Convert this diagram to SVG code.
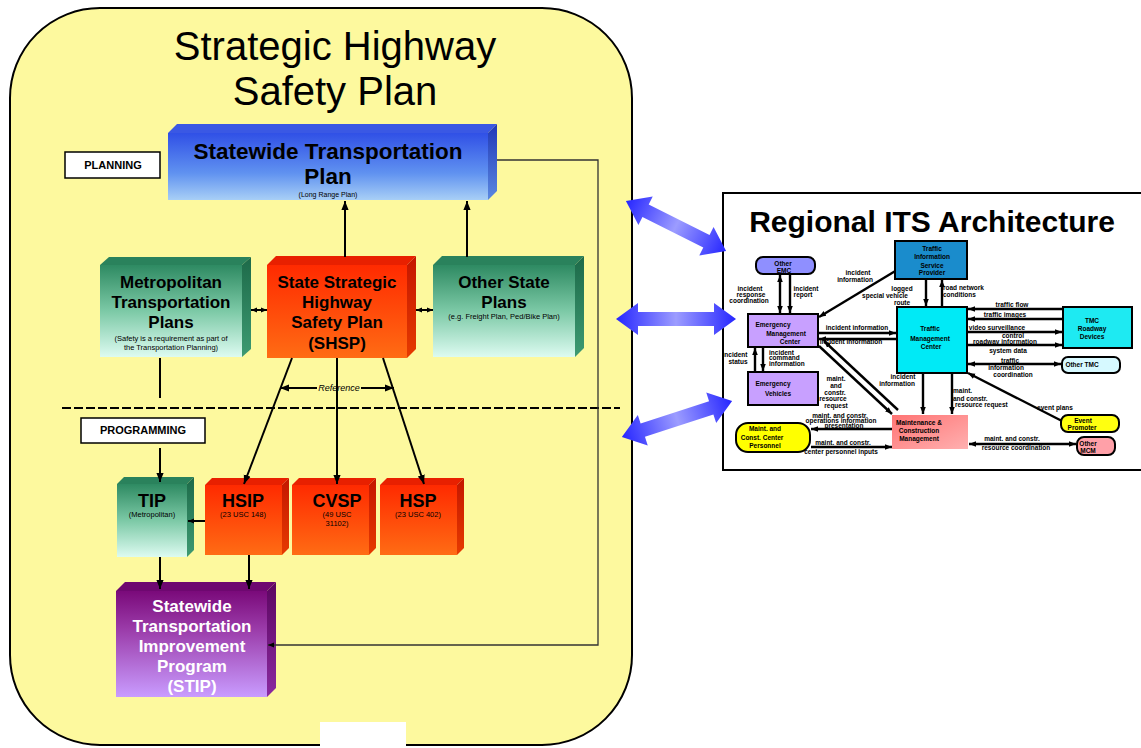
<svg xmlns="http://www.w3.org/2000/svg" width="1141" height="748" viewBox="0 0 1141 748">
<defs>
<linearGradient id="gGreen" x1="0" y1="0" x2="0" y2="1"><stop offset="0" stop-color="#2e8a62"/><stop offset="0.5" stop-color="#7cc9a6"/><stop offset="1" stop-color="#ddfbf1"/></linearGradient>
<linearGradient id="gGreenS" x1="0" y1="0" x2="0" y2="1"><stop offset="0" stop-color="#1d6a49"/><stop offset="1" stop-color="#3d9a72"/></linearGradient>
<linearGradient id="gRed" x1="0" y1="0" x2="0" y2="1"><stop offset="0" stop-color="#ff2a00"/><stop offset="1" stop-color="#ff6c14"/></linearGradient>
<linearGradient id="gRedS" x1="0" y1="0" x2="0" y2="1"><stop offset="0" stop-color="#c41600"/><stop offset="1" stop-color="#e63a00"/></linearGradient>
<linearGradient id="gBlue" x1="0" y1="0" x2="0" y2="1"><stop offset="0" stop-color="#3050e6"/><stop offset="0.6" stop-color="#6092f0"/><stop offset="1" stop-color="#a8cff6"/></linearGradient>
<linearGradient id="gBlueS" x1="0" y1="0" x2="0" y2="1"><stop offset="0" stop-color="#2038b8"/><stop offset="1" stop-color="#5a88e0"/></linearGradient>
<linearGradient id="gPurp" x1="0" y1="0" x2="0" y2="1"><stop offset="0" stop-color="#7a0a7a"/><stop offset="0.35" stop-color="#9a3aa8"/><stop offset="1" stop-color="#c99cff"/></linearGradient>
<linearGradient id="gPurpS" x1="0" y1="0" x2="0" y2="1"><stop offset="0" stop-color="#5c0660"/><stop offset="1" stop-color="#8a2aa0"/></linearGradient>
<linearGradient id="gPink" x1="0" y1="0" x2="1" y2="1"><stop offset="0" stop-color="#ff7474"/><stop offset="1" stop-color="#ffb0b0"/></linearGradient>
<linearGradient id="gArrow" x1="0" y1="0" x2="1" y2="0"><stop offset="0" stop-color="#2626ff"/><stop offset="0.5" stop-color="#9c9cff"/><stop offset="1" stop-color="#2626ff"/></linearGradient>
<marker id="a" viewBox="0 0 10 10" refX="10" refY="5" markerWidth="9" markerHeight="9" markerUnits="userSpaceOnUse" orient="auto-start-reverse"><path d="M0,1 L10,5 L0,9 z" fill="#000"/></marker>
<marker id="m" viewBox="0 0 10 10" refX="10" refY="5" markerWidth="6" markerHeight="6" markerUnits="userSpaceOnUse" orient="auto-start-reverse"><path d="M0,1 L10,5 L0,9 z" fill="#000"/></marker>
<marker id="s" viewBox="0 0 10 10" refX="10" refY="5" markerWidth="7" markerHeight="7" markerUnits="userSpaceOnUse" orient="auto-start-reverse"><path d="M0,1 L10,5 L0,9 z" fill="#000"/></marker>
</defs>
<style>
.ff{font-family:"Liberation Sans",Arial,sans-serif}
.bx{font-family:"Liberation Sans",Arial,sans-serif;font-weight:bold;text-anchor:middle;fill:#000}
.wt{fill:#fff}
.sm{font-family:"Liberation Sans",Arial,sans-serif;text-anchor:middle;fill:#000;font-size:7.5px}
.its{font-family:"Liberation Sans",Arial,sans-serif;font-weight:bold;font-size:6.5px;fill:#000;text-anchor:middle}
.itl{font-family:"Liberation Sans",Arial,sans-serif;font-weight:bold;font-size:6.5px;fill:#000}
.ln{stroke:#000;stroke-width:2;fill:none}
.il{stroke:#000;stroke-width:2.4;fill:none}
.nd{stroke:#000;stroke-width:2}
</style>
<rect width="1141" height="748" fill="#fff"/>

<g id="panel">
<rect x="10" y="8" width="622" height="737" rx="90" fill="#fdf99e" stroke="#000" stroke-width="2"/>
<rect x="320" y="722" width="86" height="26" fill="#fff"/>
<text class="ff" x="335" y="60" font-size="40" text-anchor="middle">Strategic Highway</text>
<text class="ff" x="335" y="105" font-size="40" text-anchor="middle">Safety Plan</text>
</g>

<g id="label-planning">
<rect x="65" y="152" width="95" height="26" fill="#fff" stroke="#000" stroke-width="1.5"/>
<text class="bx" x="113" y="169" font-size="11">PLANNING</text>
</g>
<g id="label-programming">
<rect x="81" y="418" width="124" height="25" fill="#fff" stroke="#000" stroke-width="1.5"/>
<text class="bx" x="143" y="434" font-size="11">PROGRAMMING</text>
</g>

<line x1="62" y1="408" x2="620" y2="408" stroke="#000" stroke-width="2" stroke-dasharray="9 3"/>

<g id="n-stp">
<rect x="168" y="133" width="320" height="67" fill="url(#gBlue)"/>
<polygon points="168,133 177,124 497,124 488,133" fill="#3a58e4"/>
<polygon points="488,133 497,124 497,191 488,200" fill="url(#gBlueS)"/>
<text class="bx" x="328" y="159" font-size="22.5">Statewide Transportation</text>
<text class="bx" x="328" y="184" font-size="22.5">Plan</text>
<text class="ff" x="328" y="197" font-size="7" text-anchor="middle">(Long Range Plan)</text>
</g>

<g id="n-metro">
<rect x="100" y="265" width="142" height="92" fill="url(#gGreen)"/>
<polygon points="100,265 109,257 251,257 242,265" fill="#2a825c"/>
<polygon points="242,265 251,257 251,349 242,357" fill="url(#gGreenS)"/>
<text class="bx" x="171" y="288" font-size="17">Metropolitan</text>
<text class="bx" x="171" y="308" font-size="17">Transportation</text>
<text class="bx" x="171" y="328" font-size="17">Plans</text>
<text class="sm" x="171" y="341">(Safety is a requirement as part of</text>
<text class="sm" x="171" y="350">the Transportation Planning)</text>
</g>

<g id="n-shsp">
<rect x="267" y="265" width="140" height="93" fill="url(#gRed)"/>
<polygon points="267,265 276,256 416,256 407,265" fill="#e82000"/>
<polygon points="407,265 416,256 416,349 407,358" fill="url(#gRedS)"/>
<text class="bx" x="337" y="288" font-size="17">State Strategic</text>
<text class="bx" x="337" y="308" font-size="17">Highway</text>
<text class="bx" x="337" y="328" font-size="17">Safety Plan</text>
<text class="bx" x="337" y="349" font-size="17">(SHSP)</text>
</g>

<g id="n-other">
<rect x="433" y="265" width="142" height="92" fill="url(#gGreen)"/>
<polygon points="433,265 442,256 584,256 575,265" fill="#2a825c"/>
<polygon points="575,265 584,256 584,348 575,357" fill="url(#gGreenS)"/>
<text class="bx" x="504" y="288" font-size="17">Other State</text>
<text class="bx" x="504" y="308" font-size="17">Plans</text>
<text class="sm" x="504" y="319">(e.g. Freight Plan, Ped/Bike Plan)</text>
</g>

<g id="n-tip">
<rect x="117" y="484" width="70" height="73" fill="url(#gGreen)"/>
<polygon points="117,484 124,477 194,477 187,484" fill="#2a825c"/>
<polygon points="187,484 194,477 194,550 187,557" fill="url(#gGreenS)"/>
<text class="bx" x="152" y="507" font-size="18">TIP</text>
<text class="sm" x="152" y="517" font-size="7">(Metropolitan)</text>
</g>

<g id="n-hsip">
<rect x="205" y="485" width="77" height="70" fill="url(#gRed)"/>
<polygon points="205,485 212,478 289,478 282,485" fill="#e82000"/>
<polygon points="282,485 289,478 289,548 282,555" fill="url(#gRedS)"/>
<text class="bx" x="243" y="507" font-size="18">HSIP</text>
<text class="sm" x="243" y="517" font-size="7">(23 USC 148)</text>
</g>

<g id="n-cvsp">
<rect x="292" y="485" width="77" height="70" fill="url(#gRed)"/>
<polygon points="292,485 299,478 376,478 369,485" fill="#e82000"/>
<polygon points="369,485 376,478 376,548 369,555" fill="url(#gRedS)"/>
<text class="bx" x="337" y="507" font-size="18">CVSP</text>
<text class="sm" x="337" y="517" font-size="7">(49 USC</text>
<text class="sm" x="337" y="526" font-size="7">31102)</text>
</g>

<g id="n-hsp">
<rect x="380" y="485" width="77" height="70" fill="url(#gRed)"/>
<polygon points="380,485 387,478 464,478 457,485" fill="#e82000"/>
<polygon points="457,485 464,478 464,548 457,555" fill="url(#gRedS)"/>
<text class="bx" x="418" y="507" font-size="18">HSP</text>
<text class="sm" x="418" y="517" font-size="7">(23 USC 402)</text>
</g>

<g id="n-stip">
<rect x="116" y="591" width="151" height="106" fill="url(#gPurp)"/>
<polygon points="116,591 125,582 276,582 267,591" fill="#6e0870"/>
<polygon points="267,591 276,582 276,688 267,697" fill="url(#gPurpS)"/>
<text class="bx wt" x="192" y="612" font-size="17">Statewide</text>
<text class="bx wt" x="192" y="632" font-size="17">Transportation</text>
<text class="bx wt" x="192" y="652" font-size="17">Improvement</text>
<text class="bx wt" x="192" y="672" font-size="17">Program</text>
<text class="bx wt" x="192" y="692" font-size="17">(STIP)</text>
</g>

<g id="connectors">
<line class="ln" x1="345" y1="257" x2="345" y2="201" marker-end="url(#a)"/>
<line class="ln" x1="467" y1="257" x2="467" y2="201" marker-end="url(#a)"/>
<line class="ln" x1="251" y1="310" x2="267" y2="310" marker-start="url(#m)" marker-end="url(#m)"/>
<line class="ln" x1="416" y1="310" x2="433" y2="310" marker-start="url(#m)" marker-end="url(#m)"/>
<line class="ln" x1="160" y1="358" x2="160" y2="398"/>
<line class="ln" x1="160" y1="448" x2="160" y2="482" marker-end="url(#a)"/>
<line class="ln" x1="292" y1="358" x2="244" y2="484" marker-end="url(#a)"/>
<line class="ln" x1="337" y1="358" x2="337" y2="484" marker-end="url(#a)"/>
<line class="ln" x1="383" y1="358" x2="424" y2="484" marker-end="url(#a)"/>
<line class="ln" x1="317" y1="388" x2="280" y2="388" marker-end="url(#a)"/>
<line class="ln" x1="361" y1="388" x2="394" y2="388" marker-end="url(#a)"/>
<text class="ff" x="339" y="391" font-size="9" font-style="italic" text-anchor="middle">Reference</text>
<line class="ln" x1="205" y1="521" x2="188" y2="521" marker-end="url(#m)"/>
<line class="ln" x1="160" y1="557" x2="160" y2="589" marker-end="url(#a)"/>
<line class="ln" x1="249" y1="555" x2="249" y2="589" marker-end="url(#a)"/>
<polyline points="497,160 598,160 598,645 268,645" fill="none" stroke="#333" stroke-width="1.3" marker-end="url(#m)"/>
</g>

<g id="its-frame">
<rect x="723" y="193" width="430" height="277" fill="#fff" stroke="#000" stroke-width="2"/>
<text class="bx" x="932" y="232" font-size="30">Regional ITS Architecture</text>
</g>

<g id="its-connectors">
<line class="il" x1="780" y1="275" x2="780" y2="313" marker-start="url(#s)" marker-end="url(#s)"/>
<line class="il" x1="790" y1="275" x2="790" y2="313" marker-end="url(#s)"/>
<line class="il" x1="897" y1="270" x2="819" y2="317" marker-end="url(#s)"/>
<line class="il" x1="819" y1="333" x2="896" y2="333" marker-end="url(#s)"/>
<line class="il" x1="896" y1="339" x2="819" y2="339" marker-end="url(#s)"/>
<line class="il" x1="926" y1="279" x2="926" y2="306" marker-end="url(#s)"/>
<line class="il" x1="942" y1="307" x2="942" y2="280" marker-end="url(#s)"/>
<line class="il" x1="1062" y1="309" x2="968" y2="309" marker-end="url(#s)"/>
<line class="il" x1="1062" y1="319" x2="968" y2="319" marker-end="url(#s)"/>
<line class="il" x1="968" y1="332" x2="1062" y2="332" marker-end="url(#s)"/>
<line class="il" x1="968" y1="345" x2="1062" y2="345" marker-end="url(#s)"/>
<line class="il" x1="968" y1="364" x2="1061" y2="364" marker-start="url(#s)" marker-end="url(#s)"/>
<line class="il" x1="755" y1="372" x2="755" y2="348" marker-end="url(#s)"/>
<line class="il" x1="763" y1="348" x2="763" y2="371" marker-end="url(#s)"/>
<line class="il" x1="819" y1="346" x2="892" y2="414" marker-end="url(#s)"/>
<line class="il" x1="898" y1="410" x2="824" y2="341" marker-end="url(#s)"/>
<line class="il" x1="923" y1="374" x2="923" y2="414" marker-end="url(#s)"/>
<line class="il" x1="952" y1="374" x2="952" y2="414" marker-end="url(#s)"/>
<line class="il" x1="1062" y1="421" x2="968" y2="373" marker-end="url(#s)"/>
<line class="il" x1="892" y1="429" x2="811" y2="429" marker-end="url(#s)"/>
<line class="il" x1="811" y1="447" x2="892" y2="447" marker-end="url(#s)"/>
<line class="il" x1="969" y1="444" x2="1076" y2="444" marker-start="url(#s)" marker-end="url(#s)"/>
<text class="its" x="750" y="291">incident</text>
<text class="its" x="751" y="297">response</text>
<text class="its" x="749" y="303">coordination</text>
<text class="its" x="806" y="291">incident</text>
<text class="its" x="803" y="297">report</text>
<text class="its" x="858" y="275">incident</text>
<text class="its" x="855" y="282">information</text>
<text class="its" x="902" y="291">logged</text>
<text class="its" x="885" y="298">special vehicle</text>
<text class="its" x="902" y="305">route</text>
<text class="itl" x="943" y="290">road network</text>
<text class="itl" x="943" y="297">conditions</text>
<text class="its" x="857" y="330">incident information</text>
<text class="its" x="851" y="344">incident information</text>
<text class="its" x="1012" y="307">traffic flow</text>
<text class="its" x="1005" y="317">traffic images</text>
<text class="its" x="997" y="330">video surveillance</text>
<text class="its" x="1013" y="338">control</text>
<text class="its" x="1005" y="344">roadway information</text>
<text class="its" x="1008" y="353">system data</text>
<text class="its" x="1010" y="363">traffic</text>
<text class="its" x="1006" y="370">information</text>
<text class="its" x="1013" y="377">coordination</text>
<text class="its" x="735" y="357">incident</text>
<text class="its" x="738" y="364">status</text>
<text class="itl" x="769" y="355">incident</text>
<text class="itl" x="769" y="360">command</text>
<text class="itl" x="769" y="366">information</text>
<text class="its" x="836" y="381">maint.</text>
<text class="its" x="836" y="388">and</text>
<text class="its" x="835" y="395">constr.</text>
<text class="its" x="833" y="401">resource</text>
<text class="its" x="836" y="408">request</text>
<text class="its" x="903" y="379">incident</text>
<text class="its" x="897" y="386">information</text>
<text class="itl" x="953" y="393">maint.</text>
<text class="itl" x="953" y="401">and constr.</text>
<text class="itl" x="955" y="407">resource request</text>
<text class="its" x="1055" y="410">event plans</text>
<text class="its" x="840" y="418">maint. and constr.</text>
<text class="its" x="841" y="423">operations information</text>
<text class="its" x="844" y="428">presentation</text>
<text class="its" x="843" y="445">maint. and constr.</text>
<text class="its" x="841" y="454">center personnel inputs</text>
<text class="its" x="1012" y="441">maint. and constr.</text>
<text class="its" x="1016" y="450">resource coordination</text>
</g>

<g id="i-other-emc"><rect class="nd" x="756" y="257" width="59" height="17" rx="7" fill="#8f8fff"/><text class="its" x="783" y="266">Other</text><text class="its" x="784" y="273">EMC</text></g>
<g id="i-emc"><rect class="nd" x="748" y="314" width="70" height="33" fill="#c8a0ff"/><text class="its" x="773" y="327">Emergency</text><text class="its" x="786" y="336">Management</text><text class="its" x="790" y="344">Center</text></g>
<g id="i-ev"><rect class="nd" x="748" y="372" width="70" height="33" fill="#c8a0ff"/><text class="its" x="773" y="386">Emergency</text><text class="its" x="778" y="396">Vehicles</text></g>
<g id="i-tisp"><rect class="nd" x="895" y="241" width="72" height="38" fill="#1a8ccc"/><text class="its" x="932" y="251">Traffic</text><text class="its" x="932" y="259">Information</text><text class="its" x="932" y="268">Service</text><text class="its" x="932" y="275">Provider</text></g>
<g id="i-tmc"><rect class="nd" x="897" y="307" width="70" height="66" fill="#00eaf6"/><text class="its" x="930" y="331">Traffic</text><text class="its" x="930" y="341">Management</text><text class="its" x="931" y="349">Center</text></g>
<g id="i-devices"><rect class="nd" x="1063" y="307" width="69" height="41" fill="#1eeaf2"/><text class="its" x="1092" y="323">TMC</text><text class="its" x="1092" y="331">Roadway</text><text class="its" x="1092" y="339">Devices</text></g>
<g id="i-other-tmc"><rect class="nd" x="1062" y="357" width="58" height="16" rx="6" fill="#d6f9ff"/><text class="its" x="1082" y="367">Other TMC</text></g>
<g id="i-mcm"><rect x="892" y="415" width="76" height="34" fill="url(#gPink)"/><text class="its" x="919" y="425">Maintenance &amp;</text><text class="its" x="919" y="433">Construction</text><text class="its" x="919" y="441">Management</text></g>
<g id="i-event"><rect class="nd" x="1061" y="415" width="58" height="17" rx="7" fill="#ffff10"/><text class="its" x="1083" y="423">Event</text><text class="its" x="1082" y="430">Promoter</text></g>
<g id="i-other-mcm"><rect class="nd" x="1077" y="437" width="38" height="18" rx="7" fill="#ffa0a8"/><text class="its" x="1088" y="446">Other</text><text class="its" x="1088" y="453">MCM</text></g>
<g id="i-mccp"><rect class="nd" x="736" y="423" width="74" height="29" rx="12" fill="#ffff00"/><text class="its" x="765" y="431">Maint. and</text><text class="its" x="762" y="440">Const. Center</text><text class="its" x="765" y="448">Personnel</text></g>

<g id="links">
<g transform="translate(676,226) rotate(26.57)"><path d="M-56,0 L-34,-16 L-34,-7 L34,-7 L34,-16 L56,0 L34,16 L34,7 L-34,7 L-34,16 Z" fill="url(#gArrow)"/></g>
<g transform="translate(676,319)"><path d="M-60,0 L-38,-16 L-38,-7 L38,-7 L38,-16 L60,0 L38,16 L38,7 L-38,7 L-38,16 Z" fill="url(#gArrow)"/></g>
<g transform="translate(677,419) rotate(-18.1)"><path d="M-58,0 L-36,-16 L-36,-7 L36,-7 L36,-16 L58,0 L36,16 L36,7 L-36,7 L-36,16 Z" fill="url(#gArrow)"/></g>
</g>
</svg>
